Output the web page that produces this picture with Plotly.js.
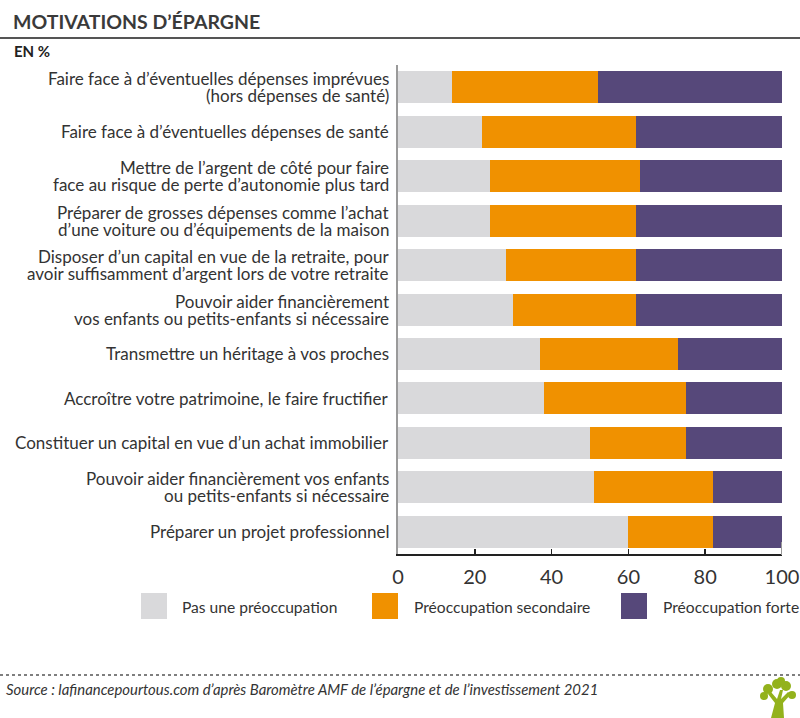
<!DOCTYPE html>
<html>
<head>
<meta charset="utf-8">
<script src="https://cdn.plot.ly/plotly-3.0.1.min.js"></script>
<style>html,body{margin:0;padding:0;background:#fff;}#chart{width:800px;height:718px;}</style>
</head>
<body>
<div id="chart"></div>
<script>
// ---- Data ----
const categories = [
  "Faire face à d’éventuelles dépenses imprévues<br>(hors dépenses de santé)",
  "Faire face à d’éventuelles dépenses de santé",
  "Mettre de l’argent de côté pour faire<br>face au risque de perte d’autonomie plus tard",
  "Préparer de grosses dépenses comme l’achat<br>d’une voiture ou d’équipements de la maison",
  "Disposer d’un capital en vue de la retraite, pour<br>avoir suffisamment d’argent lors de votre retraite",
  "Pouvoir aider financièrement<br>vos enfants ou petits-enfants si nécessaire",
  "Transmettre un héritage à vos proches",
  "Accroître votre patrimoine, le faire fructifier",
  "Constituer un capital en vue d’un achat immobilier",
  "Pouvoir aider financièrement vos enfants<br>ou petits-enfants si nécessaire",
  "Préparer un projet professionnel"
];
const pasUnePreoccupation = [14, 22, 24, 24, 28, 30, 37, 38, 50, 51, 60];
const preoccupationSecondaire = [38, 40, 39, 38, 34, 32, 36, 37, 25, 31, 22];
const preoccupationForte = [48, 38, 37, 38, 38, 38, 27, 25, 25, 18, 18];
const seriesNames = ["Pas une préoccupation", "Préoccupation secondaire", "Préoccupation forte"];
const xTicks = [0, 20, 40, 60, 80, 100];
const titleText = "MOTIVATIONS D’ÉPARGNE";
const subtitleText = "EN %";
const sourceText = "Source : lafinancepourtous.com d’après Baromètre AMF de l’épargne et de l’investissement 2021";

// ---- Style ----
const colors = ["#d9d9db", "#f09100", "#56487a"];
const FONT = "Lato, 'Liberation Sans', sans-serif";
const TXT = "#333333";
const W = 800, H = 718;
const M = {l: 398, r: 18, t: 65, b: 164};
const pw = W - M.l - M.r, ph = H - M.t - M.b;
const px = x => (x - M.l) / pw;
const py = y => (H - M.b - y) / ph;

const values = [pasUnePreoccupation, preoccupationSecondaire, preoccupationForte];
const traces = values.map((v, i) => ({
  type: "bar",
  orientation: "h",
  name: seriesNames[i],
  y: categories,
  x: v,
  marker: {color: colors[i], line: {width: 0}},
  hoverinfo: "x+name",
  showlegend: false
}));

const annotations = [];
// category labels, one annotation per line
categories.forEach(c => {
  const lines = c.split("<br>");
  const n = lines.length;
  lines.forEach((ln, i) => {
    annotations.push({
      xref: "x", yref: "y", x: 0, y: c,
      text: ln, showarrow: false,
      xanchor: "right", yanchor: "middle",
      xshift: -7, yshift: ((n - 1) / 2 - i) * 17,
      font: {family: FONT, size: 17, color: TXT}
    });
  });
});
// title & subtitle
annotations.push({xref: "paper", yref: "paper", x: px(11), y: py(22), xanchor: "left", yanchor: "middle",
  text: titleText, showarrow: false, font: {family: FONT, size: 19.5, color: "#3a3a3a", weight: 700}});
annotations.push({xref: "paper", yref: "paper", x: px(12), y: py(51), xanchor: "left", yanchor: "middle",
  text: subtitleText, showarrow: false, font: {family: FONT, size: 15, color: "#222", weight: 700}});
// legend
const legKeyX = [141, 372, 621];
const legTxtX = [180, 412, 661];
const shapes = [];
seriesNames.forEach((nm, i) => {
  shapes.push({type: "rect", xref: "paper", yref: "paper",
    x0: px(legKeyX[i]), x1: px(legKeyX[i] + 26), y0: py(593), y1: py(619),
    fillcolor: colors[i], line: {width: 0}});
  annotations.push({xref: "paper", yref: "paper", x: px(legTxtX[i]), y: py(607), xanchor: "left", yanchor: "middle",
    text: nm, showarrow: false, font: {family: FONT, size: 15.6, color: TXT}});
});
// source
annotations.push({xref: "paper", yref: "paper", x: px(4), y: py(689), xanchor: "left", yanchor: "middle",
  text: "<i>" + sourceText + "</i>", showarrow: false, font: {family: FONT, size: 14.9, color: TXT}});

// title rule and footer dotted rule
shapes.push({type: "line", xref: "paper", yref: "paper", x0: px(0), x1: px(800), y0: py(38), y1: py(38),
  line: {color: "#555", width: 2}});
shapes.push({type: "line", xref: "paper", yref: "paper", x0: px(0), x1: px(800), y0: py(675), y1: py(675),
  line: {color: "#555", width: 1.5, dash: "dot"}});
// grey end marker at 100
shapes.push({type: "line", xref: "x", yref: "paper", x0: 100, x1: 100, y0: py(555), y1: py(542),
  line: {color: "#999", width: 2}});
// logo (tree)
const green = "#93b21c";
const pts = [[771,718],[775,703],[768,694],[771,692],[777,699],[780,690],[783,690],[781,699],[788,692],[791,694],[783,703],[784,718]];
const path = "M" + pts.map(p => px(p[0]) + "," + py(p[1])).join(" L") + " Z";
shapes.push({type: "path", xref: "paper", yref: "paper", path: path, fillcolor: green, line: {width: 0}});
[[768,689,5],[777,684,5],[786,686,5],[764,696,4],[792,695,4],[781,681,4]].forEach(c => {
  shapes.push({type: "circle", xref: "paper", yref: "paper",
    x0: px(c[0]-c[2]), x1: px(c[0]+c[2]), y0: py(c[1]+c[2]), y1: py(c[1]-c[2]),
    fillcolor: green, line: {width: 0}});
});

const layout = {
  width: W, height: H,
  margin: M,
  paper_bgcolor: "#fff", plot_bgcolor: "#fff",
  barmode: "stack",
  bargap: 0.28,
  showlegend: false,
  font: {family: FONT, color: TXT},
  xaxis: {
    range: [0, 100], tickvals: xTicks, ticktext: xTicks.map(String),
    showline: true, linecolor: "#222", linewidth: 1.5, mirror: false,
    ticks: "inside", ticklen: 5, tickcolor: "#222", tickwidth: 1.5,
    showgrid: false, zeroline: false,
    tickfont: {family: FONT, size: 20, color: TXT},
    ticklabelstandoff: 4
  },
  yaxis: {
    type: "category", autorange: "reversed",
    showline: true, linecolor: "#9a9a9a", linewidth: 2,
    showticklabels: false, ticks: "", showgrid: false, zeroline: false
  },
  annotations: annotations,
  shapes: shapes
};

Plotly.newPlot("chart", traces, layout, {displayModeBar: false, staticPlot: true});
</script>
</body>
</html>
